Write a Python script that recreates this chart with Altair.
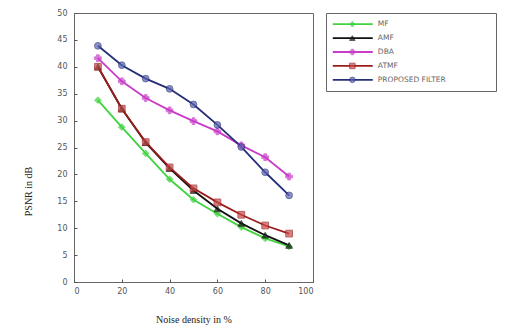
import altair as alt
import pandas as pd

noise = [10, 20, 30, 40, 50, 60, 70, 80, 90]
mf = [33.8, 28.8, 23.9, 19.1, 15.3, 12.7, 10.2, 8.1, 6.6]
amf = [40.0, 32.2, 25.9, 21.1, 17.0, 13.6, 10.9, 8.7, 6.8]
dba = [41.6, 37.3, 34.2, 31.9, 29.9, 28.0, 25.4, 23.2, 19.6]
atmf = [40.0, 32.2, 26.0, 21.3, 17.4, 14.8, 12.5, 10.5, 9.0]
proposed = [43.9, 40.3, 37.8, 35.9, 33.0, 29.2, 25.1, 20.4, 16.1]

series = ["MF", "AMF", "DBA", "ATMF", "PROPOSED FILTER"]
values = [mf, amf, dba, atmf, proposed]
line_colors = ["#3fd33f", "#111111", "#c83cc8", "#9c1c1c", "#262e78"]
fill_colors = ["#3fd33f", "#111111", "#c83cc8", "#c84a4a", "#5a64b0"]
shapes = ["diamond", "triangle-up", "cross", "square", "circle"]
x_ticks = [0, 20, 40, 60, 80, 100]
y_ticks = [0, 5, 10, 15, 20, 25, 30, 35, 40, 45, 50]

rows = []
for name, vals in zip(series, values):
    for x, v in zip(noise, vals):
        rows.append({"noise": x, "psnr": v, "series": name})
df = pd.DataFrame(rows)

color_scale = alt.Scale(domain=series, range=line_colors)
fill_scale = alt.Scale(domain=series, range=fill_colors)
shape_scale = alt.Scale(domain=series, range=shapes)

xenc = alt.X("noise:Q", scale=alt.Scale(domain=[0, 100]),
             axis=alt.Axis(values=x_ticks, title="Noise density in %",
                           offset=-3, tickSize=3, domain=False, grid=False,
                           labelPadding=5, labelOverlap=False,
                           titleY=35, titleBaseline="top"))
yenc = alt.Y("psnr:Q", scale=alt.Scale(domain=[0, 50]),
             axis=alt.Axis(values=y_ticks, title="PSNR in dB",
                           offset=-3, tickSize=3, domain=False, grid=False,
                           labelPadding=7, labelOverlap=False,
                           titleX=-44, titleY=178))

base = alt.Chart(df).encode(x=xenc, y=yenc)
lines = base.mark_line(strokeWidth=1.8).encode(
    color=alt.Color("series:N", scale=color_scale, legend=None),
    detail="series:N",
)
points = base.mark_point(filled=True, size=45, strokeWidth=1).encode(
    fill=alt.Fill("series:N", scale=fill_scale, legend=None),
    stroke=alt.Stroke("series:N", scale=color_scale, legend=None),
    shape=alt.Shape("series:N", scale=shape_scale, legend=None),
)
main = alt.layer(lines, points).properties(width=239, height=269)

leg_df = pd.DataFrame({"series": series, "x0": [0.4] * 5, "x1": [2.75] * 5,
                       "xm": [1.55] * 5, "xt": [3.05] * 5})
lx = alt.Scale(domain=[0, 10])
ly = alt.Scale(domain=series, padding=0.6)
lbase = alt.Chart(leg_df).encode(
    y=alt.Y("series:N", scale=ly, axis=None, sort=series)
)
lrule = lbase.mark_rule(strokeWidth=1.8).encode(
    x=alt.X("x0:Q", scale=lx, axis=None), x2="x1:Q",
    color=alt.Color("series:N", scale=color_scale, legend=None),
)
lpt = lbase.mark_point(filled=True, size=30, strokeWidth=1).encode(
    x=alt.X("xm:Q", scale=lx, axis=None),
    fill=alt.Fill("series:N", scale=fill_scale, legend=None),
    stroke=alt.Stroke("series:N", scale=color_scale, legend=None),
    shape=alt.Shape("series:N", scale=shape_scale, legend=None),
)
ltext = lbase.mark_text(align="left", baseline="middle", font="DejaVu Sans",
                        fontSize=7.5, color="#666666").encode(
    x=alt.X("xt:Q", scale=lx, axis=None),
    text="series:N",
)
legend = alt.layer(lrule, lpt, ltext).properties(width=170, height=78)

chart = alt.hconcat(main, legend, spacing=13, bounds="flush").properties(
    padding={"left": 14, "top": 0, "right": 0, "bottom": 0}
).configure(background="white").configure_view(
    stroke="#666666", strokeWidth=1
).configure_axis(
    labelFont="DejaVu Sans", labelFontSize=8, labelColor="#555555",
    tickColor="#555555", titleFont="Liberation Serif", titleFontSize=10,
    titleFontWeight="normal", titleColor="#222222",
)

chart.save("out.html", embed_options={"renderer": "svg", "actions": False})
